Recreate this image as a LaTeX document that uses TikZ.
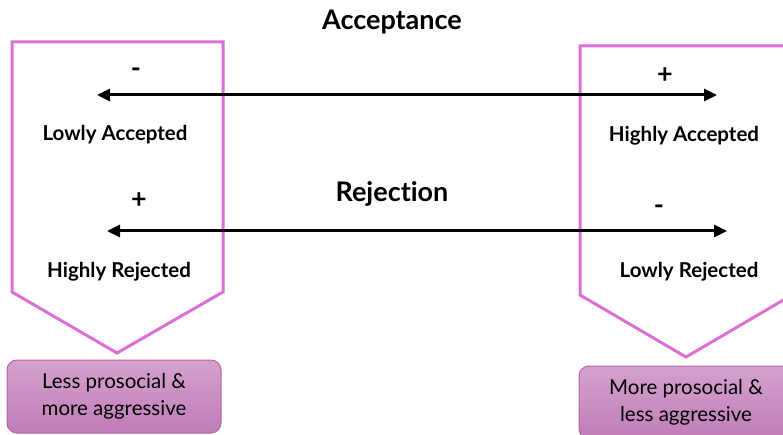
\documentclass[tikz,border=0pt]{standalone}
\usepackage{fontspec}
\setmainfont{Lato}[Ligatures={NoCommon}]
\usetikzlibrary{arrows.meta}

\definecolor{orchidline}{HTML}{DA70D6}
\definecolor{boxtop}{HTML}{D4A2CD}
\definecolor{boxbottom}{HTML}{C07CB8}
\definecolor{boxedge}{HTML}{B462AC}

\tikzset{
  chevron/.style={draw=orchidline, line width=3pt, line join=miter},
  axisline/.style={line width=3pt, {Triangle[length=13pt,width=12pt]}-{Triangle[length=13pt,width=12pt]}},
  signlbl/.style={font=\bfseries\fontsize{27}{27}\selectfont},
  polelbl/.style={font=\bfseries\fontsize{20.5}{20.5}\selectfont},
  titlelbl/.style={font=\bfseries\fontsize{27}{27}\selectfont},
  outcome/.style={draw=boxedge, line width=1pt, rounded corners=10pt,
    top color=boxtop, bottom color=boxbottom, align=center,
    font=\fontsize{20.5}{27}\selectfont, minimum width=214pt,
    minimum height=73pt, inner sep=0pt}
}

\begin{document}
\begin{tikzpicture}[x=1pt,y=-1pt]
\clip (0,0) rectangle (783,435);

% the two down-pointing chevrons
\draw[chevron] (12,42) -- (223,42) -- (223,292) -- (117,353) -- (12,292) -- cycle;
\draw[chevron] (580,46) -- (792,46) -- (792,295) -- (686,357) -- (580,295) -- cycle;

% titles
\node[titlelbl] (acc) at (392,22) {Acceptance};
\node[titlelbl] (rej) at (392,194) {Rejection};

% acceptance axis
\coordinate (accL) at (97,95);
\coordinate (accR) at (717,95);
\draw[axisline] (accL) -- (accR);
\node[signlbl] (minusA) at (136,73) {-};
\node[signlbl] (plusA) at (665,76) {+};
\node[polelbl] (lowacc) at (115,135) {Lowly Accepted};
\node[polelbl] (highacc) at (684,136) {Highly Accepted};

% rejection axis
\coordinate (rejL) at (107,231);
\coordinate (rejR) at (727,231);
\draw[axisline] (rejL) -- (rejR);
\node[signlbl] (plusR) at (139,201) {+};
\node[signlbl] (minusR) at (659,210) {-};
\node[polelbl] (highrej) at (119,272) {Highly Rejected};
\node[polelbl] (lowrej) at (689,272) {Lowly Rejected};

% outcomes
\node[outcome] (lessbox) at (114,396.5) {Less prosocial \&\\more aggressive};
\node[outcome] (morebox) at (686,402.5) {More prosocial \&\\less aggressive};
\end{tikzpicture}
\end{document}
